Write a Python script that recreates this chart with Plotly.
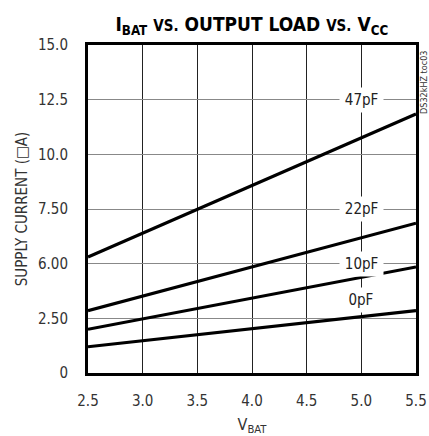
import plotly.graph_objects as go

# Data
vbat = [2.5, 5.5]
series = {
    "47pF": [5.3, 11.85],
    "22pF": [2.85, 6.85],
    "10pF": [2.0, 4.85],
    "0pF": [1.2, 2.85],
}
label_pos = {"47pF": 12.5, "22pF": 7.5, "10pF": 5.0, "0pF": 3.35}
label_x = 5.0

x_ticks = [2.5, 3.0, 3.5, 4.0, 4.5, 5.0, 5.5]
x_ticktext = ["2.5", "3.0", "3.5", "4.0", "4.5", "5.0", "5.5"]
y_ticks = [0, 2.5, 5, 7.5, 10, 12.5, 15]
y_ticktext = ["0", "2.50", "6.00", "7.50", "10.0", "12.5", "15.0"]

FONT = "DejaVu Sans"

fig = go.Figure()
for name, vals in series.items():
    fig.add_trace(go.Scatter(x=vbat, y=vals, mode="lines",
                             line=dict(color="black", width=3.2),
                             showlegend=False, name=name))

for name, yv in label_pos.items():
    fig.add_annotation(x=label_x, y=yv, text=name, showarrow=False,
                       font=dict(family=FONT, size=15, color="#222"),
                       bgcolor="white", borderpad=3)

fig.add_annotation(x=1.0, y=1.0, xref="paper", yref="paper", xanchor="center", yanchor="top",
                   xshift=7, text="DS32kHZ toc03", textangle=-90, showarrow=False,
                   font=dict(family=FONT, size=9, color="#333"))

fig.update_layout(
    width=429, height=436,
    margin=dict(l=88, r=13, t=45, b=63),
    paper_bgcolor="white", plot_bgcolor="white",
    font=dict(family=FONT, color="#333"),
    title=dict(text="<b>I<sub>BAT</sub> <span style='font-size:15px'>VS.</span> OUTPUT LOAD <span style='font-size:15px'>VS.</span> V<sub>CC</sub></b>",
               x=0.587, xanchor="center", y=0.945, yanchor="middle",
               font=dict(family=FONT, size=19, color="black")),
    xaxis=dict(range=[2.5, 5.5], tickvals=x_ticks, ticktext=x_ticktext,
               showgrid=True, gridcolor="#222", gridwidth=1,
               showline=True, linecolor="black", linewidth=3, mirror=True,
               ticks="", zeroline=False, automargin=False, ticklabelstandoff=12,
               tickfont=dict(family=FONT, size=15, color="#333"),
               title=dict(text="V<sub>BAT</sub>", font=dict(family=FONT, size=16, color="#333"), standoff=14)),
    yaxis=dict(range=[0, 15], tickvals=y_ticks, ticktext=y_ticktext,
               showgrid=True, gridcolor="#888", gridwidth=1,
               showline=True, linecolor="black", linewidth=3, mirror=True,
               ticks="", zeroline=False, automargin=False, ticklabelstandoff=14,
               tickfont=dict(family=FONT, size=15, color="#333"),
               title=dict(text="SUPPLY CURRENT (\u25a1A)", font=dict(family=FONT, size=15, color="#333"), standoff=4)),
)

css = ("var s=document.createElement('style');"
       "s.textContent='html,body{margin:0;padding:0;overflow:hidden;} svg text{font-stretch:condensed !important;}';"
       "document.head.appendChild(s);")
fig.write_html("out.html", post_script=css, config={"displayModeBar": False})
